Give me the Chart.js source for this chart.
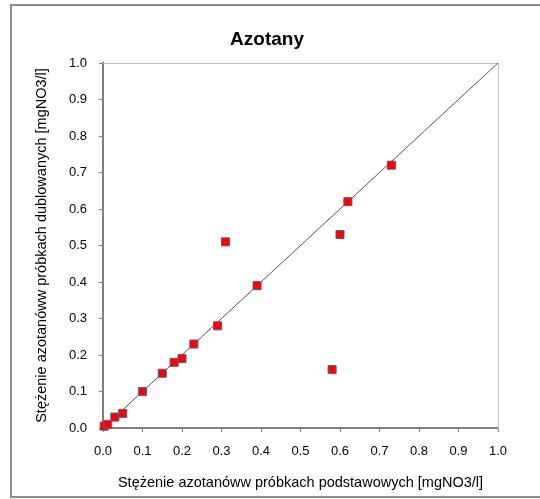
<!DOCTYPE html>
<html>
<head>
<meta charset="utf-8">
<script src="https://cdn.jsdelivr.net/npm/chart.js@4.4.1/dist/chart.umd.min.js"></script>
<style>
  html, body { margin: 0; padding: 0; background: #fff; overflow: hidden; }
  #frame {
    position: absolute; left: 10px; top: 4px; width: 560px; height: 490px;
    border: 2px solid #8c8c8c; box-sizing: content-box;
  }
  #chart { position: absolute; left: 0; top: 0; }
</style>
</head>
<body>
<div id="frame"></div>
<canvas id="chart" width="540" height="499"></canvas>
<script>
// Azotany: basic vs. duplicate samples
const podstawowe = [0.003, 0.012, 0.03, 0.05, 0.10, 0.15, 0.18, 0.20, 0.23, 0.29, 0.31, 0.39, 0.58, 0.60, 0.62, 0.73];
const dublowane  = [0.005, 0.010, 0.03, 0.04, 0.10, 0.15, 0.18, 0.19, 0.23, 0.28, 0.51, 0.39, 0.16, 0.53, 0.62, 0.72];
const liniaX = [0, 1];
const liniaY = [0, 1];

const fontFamily = "'Liberation Sans', Arial, sans-serif";
const axisGray = '#808080';

const points = podstawowe.map((x, i) => ({ x: x, y: dublowane[i] }));
const line = liniaX.map((x, i) => ({ x: x, y: liniaY[i] }));

function fixWidth(w) { return scale => { scale.width = w; }; }
function fixHeight(h) { return scale => { scale.height = h; }; }

new Chart(document.getElementById('chart'), {
    type: 'scatter',
    data: {
        datasets: [{
            type: 'scatter',
            data: points,
            backgroundColor: '#ff0000',
            borderColor: '#5a5f80',
            borderWidth: 1,
            pointStyle: 'rect',
            pointRadius: 5.7,
            clip: false,
            order: 0
        }, {
            type: 'line',
            data: line,
            borderColor: '#555555',
            borderWidth: 1,
            pointRadius: 0,
            fill: false,
            order: 1
        }]
    },
    options: {
        responsive: false,
        animation: false,
        devicePixelRatio: 1,
        layout: { padding: { left: 11, right: 17, top: 28.5, bottom: 0 } },
        plugins: {
            legend: { display: false },
            tooltip: { enabled: false },
            title: {
                display: true,
                text: 'Azotany',
                color: '#000',
                font: { family: fontFamily, size: 19, weight: 'bold' },
                padding: 0
            }
        },
        scales: {
            x: {
                type: 'linear', position: 'bottom', min: 0, max: 1,
                afterFit: fixHeight(71),
                border: { color: axisGray, width: 2 },
                grid: { display: true, drawOnChartArea: false, tickLength: 4, tickColor: axisGray },
                ticks: {
                    stepSize: 0.1, padding: 12, color: '#000',
                    font: { family: fontFamily, size: 13 },
                    callback: v => v.toFixed(1)
                },
                title: {
                    display: true,
                    text: 'Stężenie azotanóww próbkach podstawowych [mgNO3/l]',
                    color: '#000',
                    font: { family: fontFamily, size: 14.5 },
                    padding: { top: 0, bottom: 7.3 }
                }
            },
            y: {
                type: 'linear', position: 'left', min: 0, max: 1,
                afterFit: fixWidth(92),
                border: { color: axisGray, width: 2 },
                grid: { display: true, drawOnChartArea: false, tickLength: 4, tickColor: axisGray },
                ticks: {
                    stepSize: 0.1, padding: 12, color: '#000',
                    font: { family: fontFamily, size: 13 },
                    callback: v => v.toFixed(1)
                },
                title: {
                    display: true,
                    text: 'Stężenie azotanóww próbkach dublowanych [mgNO3/l]',
                    color: '#000',
                    font: { family: fontFamily, size: 14.5 },
                    padding: { top: 22.3, bottom: 0 }
                }
            },
            x2: {
                type: 'linear', position: 'top', min: 0, max: 1,
                afterFit: fixHeight(11.7),
                border: { color: '#c0c0c0', width: 1 },
                grid: { display: false },
                ticks: { display: false }
            },
            y2: {
                type: 'linear', position: 'right', min: 0, max: 1,
                afterFit: fixWidth(25),
                border: { color: '#c0c0c0', width: 1 },
                grid: { display: false },
                ticks: { display: false }
            }
        }
    }
});
</script>
</body>
</html>
